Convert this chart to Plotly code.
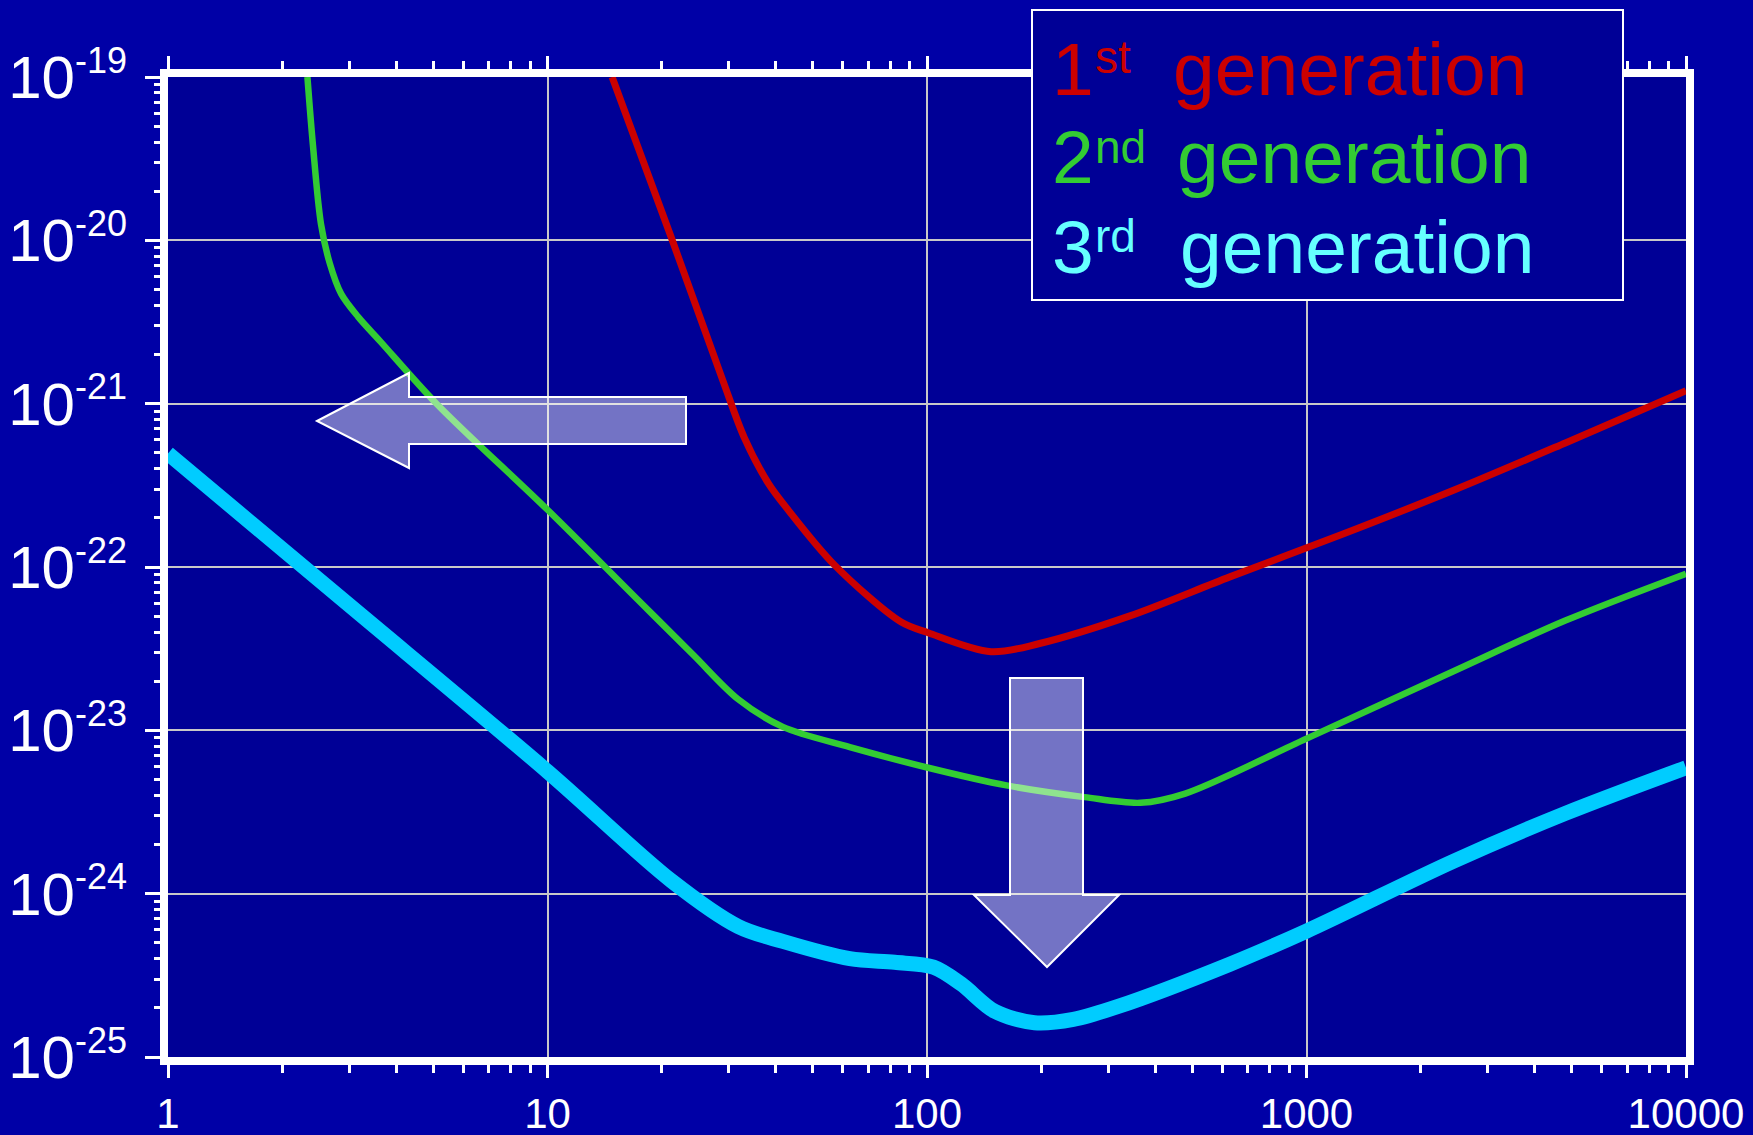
import plotly.graph_objects as go

# ---------------- data ----------------
freq_1st = [14.8, 21.1, 29.0, 33.0, 38.2, 43.1, 57.0, 85.5, 100.7, 147.5, 198, 341, 628, 1238,
            2440, 4810, 10000]
strain_1st = [1.0e-19, 1.07e-20, 1.38e-21, 6.2e-22, 3.25e-22, 2.23e-22, 1.03e-22, 4.6e-23, 3.96e-23,
              3.03e-23, 3.4e-23, 5.0e-23, 8.7e-23, 1.58e-22, 2.95e-22, 5.75e-22, 1.2e-21]

freq_2nd = [2.33, 2.41, 2.53, 2.67, 2.86, 3.17, 3.63, 5.1, 10, 17.3, 24.2, 31.8, 41.7, 62.6,
            100.7, 162, 260, 365, 479, 1000, 2440, 4810, 10000]
strain_2nd = [1.0e-19, 3.8e-20, 1.26e-20, 7.2e-21, 4.7e-21, 3.4e-21, 2.4e-21, 1.0e-21, 2.24e-22,
              6.3e-23, 2.9e-23, 1.55e-23, 1.05e-23, 7.9e-24, 5.9e-24, 4.6e-24, 3.9e-24, 3.6e-24,
              4.1e-24, 8.9e-24, 2.3e-23, 4.7e-23, 9.1e-23]

freq_3rd = [1, 3, 10, 21.2, 31.8, 41.7, 62.6, 82.2, 104, 123, 151, 192, 243, 319, 628, 1000,
            2440, 4810, 10000]
strain_3rd = [4.95e-22, 5.85e-23, 5.6e-24, 1.2e-24, 6.3e-25, 5.1e-25, 4.0e-25, 3.8e-25, 3.55e-25,
              2.8e-25, 1.9e-25, 1.62e-25, 1.7e-25, 2.04e-25, 3.7e-25, 5.9e-25, 1.58e-24,
              3.1e-24, 5.9e-24]

x_tick_vals = [1, 10, 100, 1000, 10000]
x_tick_text = ["1", "10", "100", "1000", "10000"]
y_tick_vals = [1e-25, 1e-24, 1e-23, 1e-22, 1e-21, 1e-20, 1e-19]
y_tick_exp = ["-25", "-24", "-23", "-22", "-21", "-20", "-19"]
x_minor_vals = [m * 10 ** e for e in range(0, 4) for m in range(2, 10)]
y_minor_vals = [m * 10.0 ** e for e in range(-25, -19) for m in range(2, 10)]

legend_numbers = ["1", "2", "3"]
legend_suffixes = ["st", "nd", "rd"]
legend_word = "generation"
legend_colors = ["#CC0000", "#33CC33", "#66FFFF"]

# ---------------- layout geometry (pixels) ----------------
W, H = 1753, 1135
PL, PR, PT, PB = 168, 1686, 77, 1057   # plot area


def px(x):
    return (x - PL) / (PR - PL)


def py(y):
    return (PB - y) / (PB - PT)


def path(pts):
    return "M " + " L ".join(f"{px(a):.5f},{py(b):.5f}" for a, b in pts) + " Z"


left_arrow = [(317, 421), (409, 373), (409, 397), (686, 397), (686, 444), (409, 444), (409, 468)]
down_arrow = [(1010, 678), (1083, 678), (1083, 895), (1119, 895), (1047, 967), (974, 895), (1010, 895)]

legend_box = (1032, 10, 1623, 300)
num_x = 1051
suf_x = 1094
word_x = [1172, 1176, 1179]
baselines = [95, 183, 273]
sup_baselines = [73, 163, 252]
BIG, SMALL = 75, 46

PAPER_BG = "#0000A6"
PLOT_BG = "#000096"
FONT = "Liberation Sans, Arial, sans-serif"

fig = go.Figure()
fig.add_trace(go.Scatter(x=freq_1st, y=strain_1st, mode="lines",
                         line=dict(color="#CC0000", width=7, shape="spline", smoothing=0.9),
                         showlegend=False, hoverinfo="skip"))
fig.add_trace(go.Scatter(x=freq_2nd, y=strain_2nd, mode="lines",
                         line=dict(color="#33CC33", width=6.5, shape="spline", smoothing=0.9),
                         showlegend=False, hoverinfo="skip"))
fig.add_trace(go.Scatter(x=freq_3rd, y=strain_3rd, mode="lines",
                         line=dict(color="#00CCFF", width=15, shape="spline", smoothing=0.9),
                         showlegend=False, hoverinfo="skip"))

shapes = []
for arr in (left_arrow, down_arrow):
    shapes.append(dict(type="path", xref="paper", yref="paper", path=path(arr),
                       fillcolor="rgba(255,255,255,0.45)", line=dict(color="white", width=2),
                       layer="above"))
bx0, by0, bx1, by1 = legend_box
shapes.append(dict(type="rect", xref="paper", yref="paper",
                   x0=px(bx0), x1=px(bx1), y0=py(by1), y1=py(by0),
                   fillcolor=PLOT_BG, line=dict(color="white", width=2), layer="above"))

annotations = []
for i in range(3):
    col = legend_colors[i]
    annotations.append(dict(xref="paper", yref="paper", x=px(num_x), y=py(baselines[i] - 0.3465 * BIG),
                            xanchor="left", yanchor="middle", showarrow=False, borderpad=0,
                            text=legend_numbers[i], font=dict(family=FONT, size=BIG, color=col)))
    annotations.append(dict(xref="paper", yref="paper", x=px(suf_x), y=py(sup_baselines[i] - 0.3465 * SMALL),
                            xanchor="left", yanchor="middle", showarrow=False, borderpad=0,
                            text=legend_suffixes[i], font=dict(family=FONT, size=SMALL, color=col)))
    annotations.append(dict(xref="paper", yref="paper", x=px(word_x[i]), y=py(baselines[i] - 0.3465 * BIG),
                            xanchor="left", yanchor="middle", showarrow=False, borderpad=0,
                            text=legend_word, font=dict(family=FONT, size=BIG, color=col)))

y_tick_text = [f"10<sup><span style='font-size:36px'>{e}</span></sup>" for e in y_tick_exp]

fig.update_layout(
    width=W, height=H, autosize=False,
    margin=dict(l=PL, r=W - PR, t=PT, b=H - PB, pad=0),
    paper_bgcolor=PAPER_BG, plot_bgcolor=PLOT_BG,
    font=dict(family=FONT, color="white"),
    shapes=shapes, annotations=annotations,
    xaxis=dict(type="log", range=[0, 4], tickmode="array", tickvals=x_tick_vals, ticktext=x_tick_text,
               ticks="outside", ticklen=13, tickwidth=3, tickcolor="white", automargin=False,
               showline=True, linecolor="white", linewidth=8, mirror="allticks",
               showgrid=True, gridcolor="#C8C8C8", gridwidth=2, zeroline=False,
               tickfont=dict(family=FONT, size=42, color="white"), ticklabelstandoff=0,
               minor=dict(tickmode="array", tickvals=x_minor_vals, ticks="outside", ticklen=8,
                          tickwidth=3, tickcolor="white", showgrid=False)),
    yaxis=dict(type="log", range=[-25, -19], tickmode="array", tickvals=y_tick_vals, ticktext=y_tick_text,
               ticks="outside", ticklen=15, tickwidth=3, tickcolor="white", automargin=False,
               showline=True, linecolor="white", linewidth=8, mirror=True,
               showgrid=True, gridcolor="#C8C8C8", gridwidth=2, zeroline=False,
               tickfont=dict(family=FONT, size=60, color="white"), ticklabelstandoff=6,
               minor=dict(tickmode="array", tickvals=y_minor_vals, ticks="outside", ticklen=6,
                          tickwidth=3, tickcolor="white", showgrid=False)),
)

fig.write_html("out.html", config={"displayModeBar": False},
               post_script="document.body.style.margin='0';document.body.style.overflow='hidden';"
                           "document.body.style.background='" + PAPER_BG + "';")
